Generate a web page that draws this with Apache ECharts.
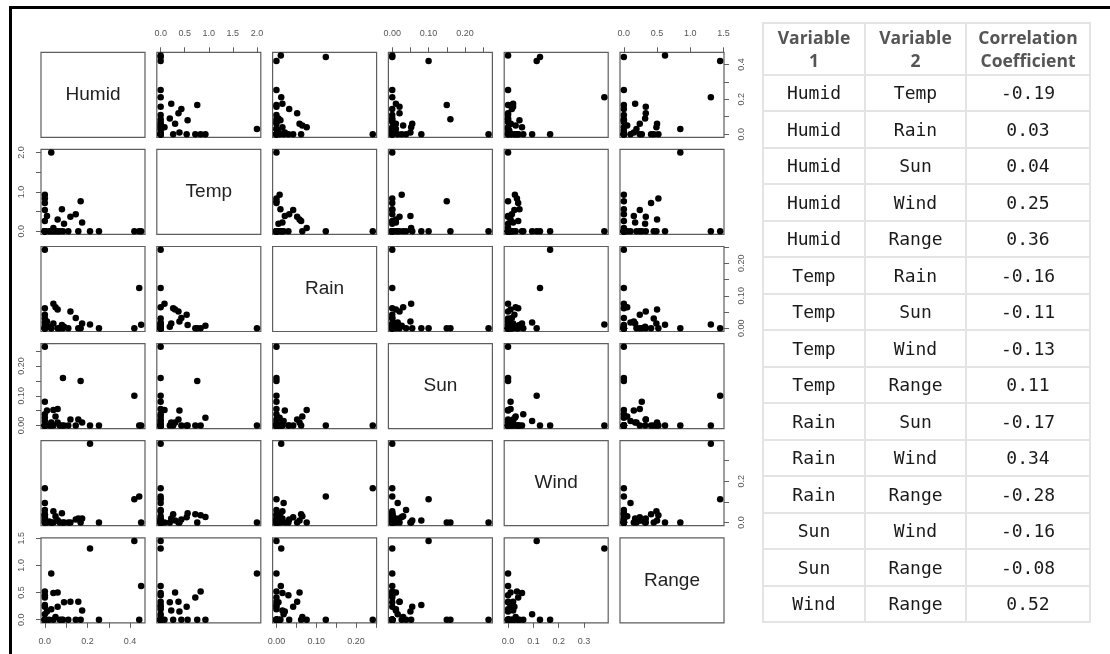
<!DOCTYPE html>
<html>
<head>
<meta charset="utf-8">
<script src="https://cdn.jsdelivr.net/npm/echarts@6/dist/echarts.min.js"></script>
<style>
  html, body { margin: 0; padding: 0; background: #fff; }
  #wrap { position: relative; width: 1110px; height: 654px; overflow: hidden; background: #fff; }
  #chart { position: absolute; left: 0; top: 0; width: 1110px; height: 654px; }
  #frame { position: absolute; left: 9px; top: 6px; width: 1200px; height: 700px;
           border-top: 3px solid #000; border-left: 3px solid #000; pointer-events: none; }
  #corr { position: absolute; left: 762px; top: 22px; border-collapse: collapse; table-layout: fixed; }
  #corr th, #corr td { border: 2px solid #e4e4e4; text-align: center; padding: 0; }
  #corr th { font: 700 17.5px 'Open Sans', sans-serif; color: #555; line-height: 22.5px; height: 49.5px; }
  #corr td { font: 18px 'DejaVu Sans Mono', monospace; color: #1a1a1a; height: 34.5px; }
</style>
</head>
<body>
<div id="wrap">
  <div id="chart"></div>
  <div id="frame"></div>
  <table id="corr">
    <colgroup><col style="width:102px"><col style="width:101px"><col style="width:124px"></colgroup>
    <thead><tr id="corrHead"></tr></thead>
    <tbody id="corrBody"></tbody>
  </table>
</div>
<script>
// Weather variables, one value per observation (36 observations)
const varNames = ['Humid', 'Temp', 'Rain', 'Sun', 'Wind', 'Range'];
const humid = [0.030, 0.452, 0.443, 0.420, 0.212, 0.000, 0.000, 0.085, 0.168, 0.000, 0.000, 0.000,
               0.000, 0.010, 0.000, 0.080, 0.060, 0.120, 0.145, 0.175, 0.090, 0.040, 0.254, 0.157,
               0.060, 0.040, 0.030, 0.000, 0.000, 0.020, 0.050, 0.000, 0.110, 0.000, 0.070, 0.000];
const temp  = [2.00, 0.00, 0.00, 0.00, 0.00, 0.00, 0.00, 0.00, 0.76, 0.93, 0.83, 0.72,
               0.54, 0.39, 0.26, 0.56, 0.30, 0.37, 0.43, 0.22, 0.19, 0.08, 0.00, 0.00,
               0.00, 0.00, 0.00, 0.00, 0.00, 0.00, 0.00, 0.00, 0.00, 0.00, 0.00, 0.00];
const rain  = [0.000, 0.011, 0.124, 0.000, 0.012, 0.242, 0.000, 0.000, 0.000, 0.008, 0.000, 0.000,
               0.042, 0.021, 0.062, 0.010, 0.058, 0.052, 0.032, 0.015, 0.005, 0.076, 0.000, 0.000,
               0.000, 0.015, 0.000, 0.030, 0.000, 0.005, 0.065, 0.000, 0.000, 0.018, 0.000, 0.000];
const sun   = [0.000, 0.000, 0.000, 0.100, 0.000, 0.000, 0.265, 0.160, 0.150, 0.026, 0.000, 0.000,
               0.000, 0.050, 0.000, 0.000, 0.010, 0.020, 0.000, 0.010, 0.000, 0.052, 0.000, 0.020,
               0.055, 0.000, 0.010, 0.000, 0.080, 0.000, 0.030, 0.038, 0.000, 0.015, 0.000, 0.000];
const wind  = [0.000, 0.000, 0.126, 0.113, 0.380, 0.166, 0.000, 0.000, 0.000, 0.027, 0.035, 0.040,
               0.025, 0.000, 0.040, 0.045, 0.010, 0.000, 0.015, 0.020, 0.000, 0.000, 0.000, 0.020,
               0.010, 0.055, 0.000, 0.000, 0.010, 0.005, 0.030, 0.060, 0.000, 0.095, 0.000, 0.015];
const range = [0.85, 0.62, 0.00, 1.45, 1.31, 0.00, 0.00, 0.00, 0.00, 0.00, 0.52, 0.41,
               0.24, 0.15, 0.00, 0.00, 0.50, 0.33, 0.00, 0.17, 0.32, 0.00, 0.00, 0.33,
               0.24, 0.49, 0.19, 0.45, 0.27, 0.00, 0.05, 0.00, 0.00, 0.10, 0.00, 0.00];

// Tick positions and labelled ticks for each variable (horizontal / vertical axes)
const humidTicks = [0, 0.1, 0.2, 0.3, 0.4];
const humidLabelsX = [0, 0.2, 0.4];
const humidLabelsY = [0, 0.2, 0.4];
const tempTicks = [0, 0.5, 1, 1.5, 2];
const tempLabelsX = [0, 0.5, 1, 1.5, 2];
const tempLabelsY = [0, 1, 2];
const rainTicks = [0, 0.05, 0.1, 0.15, 0.2, 0.25];
const rainLabelsX = [0, 0.1, 0.2];
const rainLabelsY = [0, 0.1, 0.2];
const sunTicks = [0, 0.05, 0.1, 0.15, 0.2, 0.25];
const sunLabelsX = [0, 0.1, 0.2];
const sunLabelsY = [0, 0.1, 0.2];
const windTicks = [0, 0.1, 0.2, 0.3];
const windLabelsX = [0, 0.1, 0.2, 0.3];
const windLabelsY = [0, 0.2];
const rangeTicks = [0, 0.5, 1, 1.5];
const rangeLabelsX = [0, 0.5, 1, 1.5];
const rangeLabelsY = [0, 0.5, 1, 1.5];
const labelDigits = [1, 1, 2, 2, 1, 1];

// Pairwise correlation table
const corrHeader = ['Variable<br>1', 'Variable<br>2', 'Correlation<br>Coefficient'];
const corrVar1 = ['Humid', 'Humid', 'Humid', 'Humid', 'Humid', 'Temp', 'Temp', 'Temp', 'Temp',
                  'Rain', 'Rain', 'Rain', 'Sun', 'Sun', 'Wind'];
const corrVar2 = ['Temp', 'Rain', 'Sun', 'Wind', 'Range', 'Rain', 'Sun', 'Wind', 'Range',
                  'Sun', 'Wind', 'Range', 'Wind', 'Range', 'Range'];
const corrCoef = ['-0.19', '0.03', '0.04', '0.25', '0.36', '-0.16', '-0.11', '-0.13', '0.11',
                  '-0.17', '0.34', '-0.28', '-0.16', '-0.08', '0.52'];

// ---- table ----
document.getElementById('corrHead').innerHTML = corrHeader.map(h => '<th>' + h + '</th>').join('');
document.getElementById('corrBody').innerHTML = corrVar1.map((v, i) =>
  '<tr><td>' + v + '</td><td>' + corrVar2[i] + '</td><td>' + corrCoef[i] + '</td></tr>').join('');

// ---- scatterplot matrix ----
const columns = [humid, temp, rain, sun, wind, range];
const ticksFor = [humidTicks, tempTicks, rainTicks, sunTicks, windTicks, rangeTicks];
const labelsX = [humidLabelsX, tempLabelsX, rainLabelsX, sunLabelsX, windLabelsX, rangeLabelsX];
const labelsY = [humidLabelsY, tempLabelsY, rainLabelsY, sunLabelsY, windLabelsY, rangeLabelsY];

const PANEL_LEFT = 41, PANEL_TOP = 52.3, COL_STEP = 115.8, ROW_STEP = 97.1;
const PANEL_W = 104, PANEL_H = 85;
const frameColor = '#5e5e5e';
const labelColor = '#555';

function extentOf(vals) {
  const mn = Math.min(...vals), mx = Math.max(...vals);
  const pad = 0.04 * (mx - mn);
  return [mn - pad, mx + pad];
}

function makeAxis(k, isY, show, position, gridIndex) {
  const ext = extentOf(columns[k]);
  const d = labelDigits[k];
  return {
    type: 'value', gridIndex: gridIndex, position: position,
    min: ext[0], max: ext[1],
    splitLine: { show: false },
    axisLine: { show: false, onZero: false },
    axisTick: { show: show, inside: false, length: 5, customValues: ticksFor[k],
                lineStyle: { color: frameColor, width: 1 } },
    axisLabel: { show: show, customValues: isY ? labelsY[k] : labelsX[k],
                 formatter: v => Number(v).toFixed(d),
                 fontSize: 9, fontFamily: 'Liberation Sans', color: labelColor,
                 margin: isY ? (position === 'left' ? 15 : 13) : 14,
                 rotate: isY ? 90 : 0 }
  };
}

const grids = [], xAxes = [], yAxes = [], series = [], graphics = [];
for (let i = 0; i < 6; i++) {
  for (let j = 0; j < 6; j++) {
    const idx = i * 6 + j;
    const left = PANEL_LEFT + j * COL_STEP;
    const top = PANEL_TOP + i * ROW_STEP;
    grids.push({ left: left, top: top, width: PANEL_W, height: PANEL_H, show: true,
                 borderColor: frameColor, borderWidth: 1.2, backgroundColor: 'transparent',
                 containLabel: false, outerBoundsMode: 'none' });
    const showX = (i === 0 && j % 2 === 1) || (i === 5 && j % 2 === 0);
    const showY = (j === 0 && i % 2 === 1) || (j === 5 && i % 2 === 0);
    xAxes.push(makeAxis(j, false, showX, i === 0 ? 'top' : 'bottom', idx));
    yAxes.push(makeAxis(i, true, showY, j === 0 ? 'left' : 'right', idx));
    if (i === j) {
      graphics.push({ type: 'text', x: left + PANEL_W / 2, y: top + PANEL_H / 2, silent: true,
        style: { text: varNames[i], font: '19px "Liberation Sans"', fill: '#222',
                 align: 'center', verticalAlign: 'middle' } });
    } else {
      series.push({ type: 'scatter', xAxisIndex: idx, yAxisIndex: idx,
        data: columns[j].map((xv, k) => [xv, columns[i][k]]),
        symbol: 'circle', symbolSize: 6.5, itemStyle: { color: '#000', opacity: 1 },
        emphasis: { disabled: true } });
    }
  }
}

const chart = echarts.init(document.getElementById('chart'), null, { renderer: 'canvas' });
chart.setOption({
  animation: false,
  backgroundColor: 'transparent',
  grid: grids, xAxis: xAxes, yAxis: yAxes, series: series, graphic: graphics
});
</script>
</body>
</html>
